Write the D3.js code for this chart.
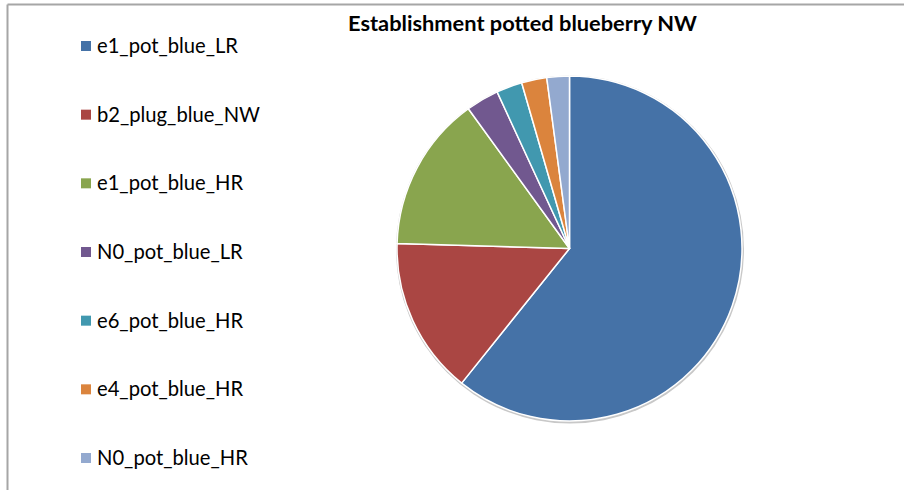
<!DOCTYPE html>
<html>
<head>
<meta charset="utf-8">
<script src="https://cdn.jsdelivr.net/npm/d3@7"></script>
<style>
  html, body { margin: 0; padding: 0; background: #fff; }
  svg { display: block; }
</style>
</head>
<body>
<svg id="chart" width="904" height="490"></svg>
<script>
const title = "Establishment potted blueberry NW";
const categories = ["e1_pot_blue_LR", "b2_plug_blue_NW", "e1_pot_blue_HR", "N0_pot_blue_LR", "e6_pot_blue_HR", "e4_pot_blue_HR", "N0_pot_blue_HR"];
const values = [60.75, 14.72, 14.56, 3.08, 2.42, 2.36, 2.11];
const colors = ["#4572A7", "#AA4643", "#89A54E", "#71588F", "#4198AF", "#DB843D", "#93A9CF"];

const svg = d3.select("#chart");
const W = 904, H = 490;
const font = "Lato, 'Open Sans', sans-serif";

// frame (chart border visible at top and left)
svg.append("line").attr("x1", 7.5).attr("x2", W).attr("y1", 4.5).attr("y2", 4.5)
  .attr("stroke", "#a6a6a6").attr("stroke-width", 2);
svg.append("line").attr("x1", 7.5).attr("x2", 7.5).attr("y1", 4.5).attr("y2", H)
  .attr("stroke", "#a6a6a6").attr("stroke-width", 2);

// title
svg.append("text")
  .attr("x", 522.5).attr("y", 31)
  .attr("text-anchor", "middle")
  .attr("font-family", font)
  .attr("font-weight", "bold")
  .attr("font-size", 21.8)
  .attr("fill", "#000")
  .text(title);

// pie
const cx = 569.5, cy = 248.5, r = 172.5;
const pie = d3.pie().sort(null).value(d => d).startAngle(0).endAngle(2 * Math.PI);
const arc = d3.arc().innerRadius(0).outerRadius(r);
const color = d3.scaleOrdinal().domain(categories).range(colors);

const g = svg.append("g").attr("transform", `translate(${cx},${cy})`);
g.append("circle").attr("r", r + 1.5).attr("cx", 0.5).attr("cy", 1).attr("fill", "#c8c8c8");
g.selectAll("path.slice")
  .data(pie(values))
  .join("path")
  .attr("class", "slice")
  .attr("d", arc)
  .attr("fill", (d, i) => color(categories[i]))
  .attr("stroke", "#ffffff")
  .attr("stroke-width", 1.5)
  .attr("stroke-linejoin", "round");

// legend
const ly = d3.scalePoint().domain(categories).range([46, 458]);
const leg = svg.append("g");
const items = leg.selectAll("g").data(categories).join("g")
  .attr("transform", d => `translate(81,${ly(d)})`);
items.append("rect").attr("x", 0).attr("y", -5).attr("width", 10).attr("height", 10)
  .attr("fill", d => color(d));
items.append("text").attr("x", 16).attr("y", 7)
  .attr("font-family", font).attr("font-size", 20.2).attr("fill", "#000")
  .text(d => d);
</script>
</body>
</html>
